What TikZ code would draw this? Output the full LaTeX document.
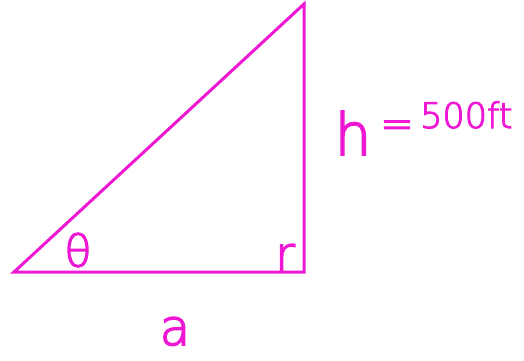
\documentclass[tikz,border=0pt]{standalone}
\usepackage{fontspec}
\newfontfamily\hand[FakeBold=3]{DejaVu Sans ExtraLight}
\definecolor{pen}{RGB}{238,24,212}
\begin{document}
\begin{tikzpicture}[x=1pt,y=-1pt,
  lbl/.style={text=pen,inner sep=0pt,font=\hand}]
\useasboundingbox (0,0) rectangle (524,360);
\coordinate (A) at (14,272);
\coordinate (B) at (304,272);
\coordinate (C) at (304,4);
\draw[pen,line width=3pt,line join=miter] (A) -- (B) -- (C) -- cycle;
\node[lbl,font=\hand\fontsize{44}{44}\selectfont,anchor=center] (theta) at (78,250) {θ};
\node[lbl,font=\hand\fontsize{48}{48}\selectfont,anchor=base] (r) at (285,271) {r};
\node[lbl,font=\hand\fontsize{50}{50}\selectfont,anchor=base] (a) at (175,345) {a};
\node[lbl,font=\hand\fontsize{58}{58}\selectfont,anchor=base] (h) at (353,155) {h};
\node[lbl,font=\hand\fontsize{40}{40}\selectfont,anchor=center] (eq) at (397,129) {=};
\node[lbl,font=\hand\fontsize{35}{35}\selectfont,anchor=base west] (val) at (420,128) {500ft};
\end{tikzpicture}
\end{document}
